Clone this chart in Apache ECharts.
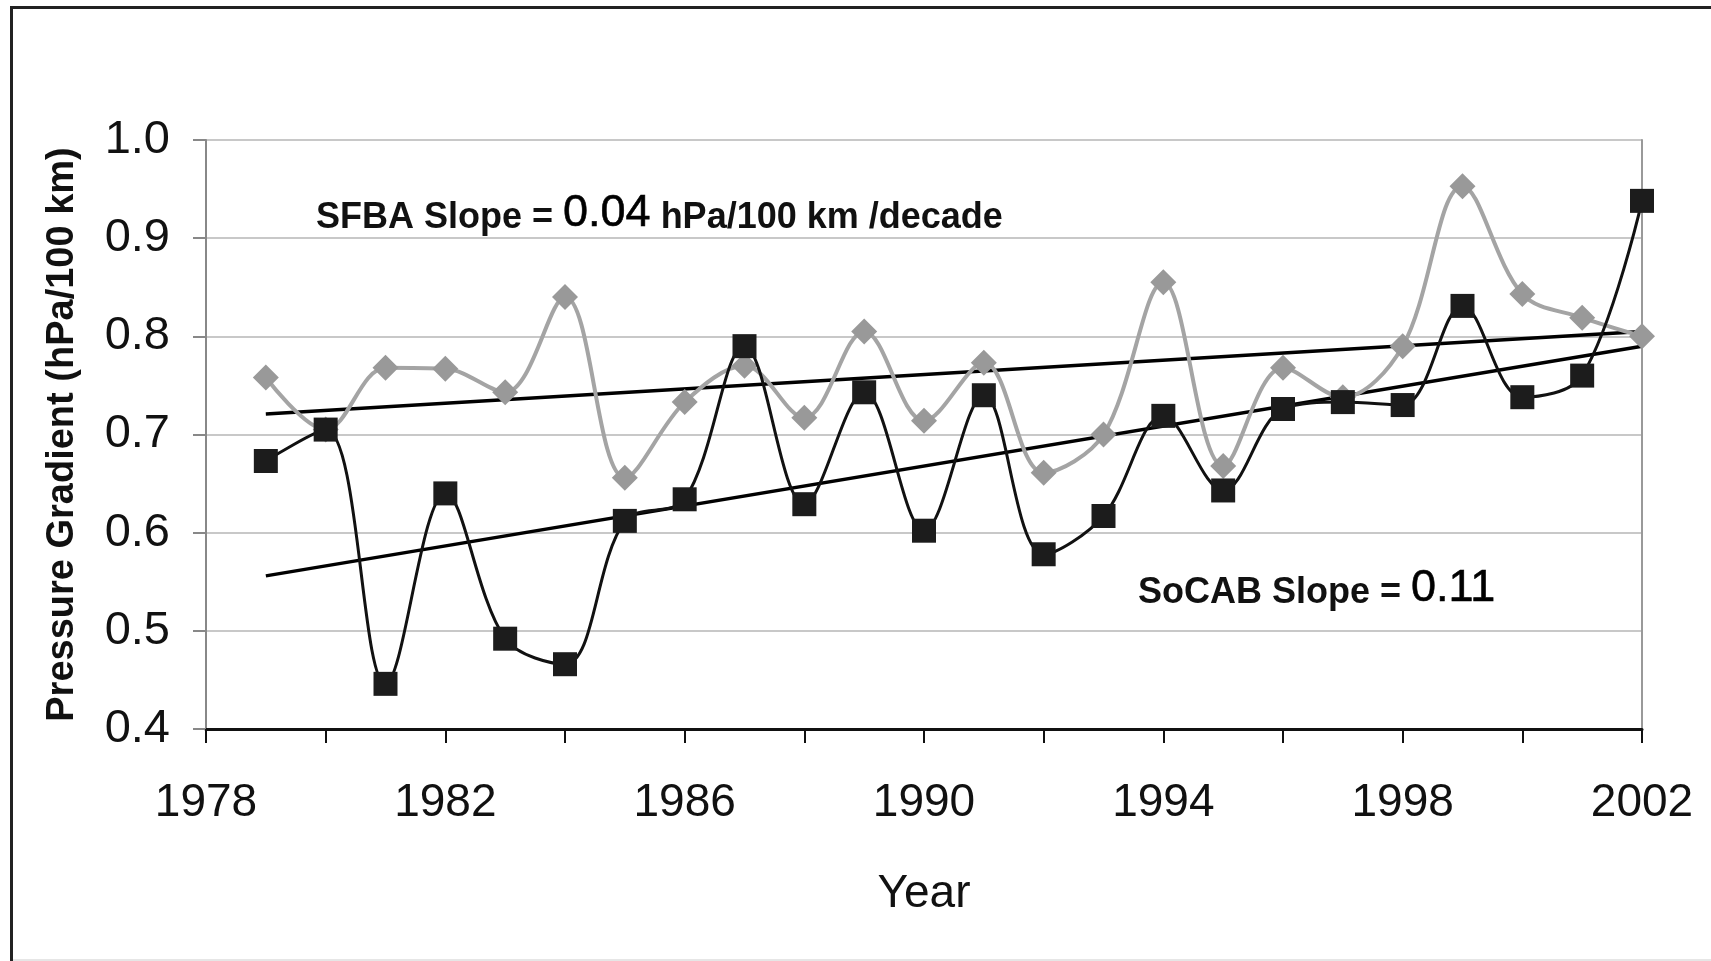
<!DOCTYPE html>
<html>
<head>
<meta charset="utf-8">
<script src="https://cdn.jsdelivr.net/npm/echarts@6/dist/echarts.min.js"></script>
<style>
html,body{margin:0;padding:0;background:#fff;}
#chart{width:1711px;height:961px;}
</style>
</head>
<body>
<div id="chart"></div>
<script>
// ---- data ----
const years = [1979,1980,1981,1982,1983,1984,1985,1986,1987,1988,1989,1990,1991,1992,1993,1994,1995,1996,1997,1998,1999,2000,2001,2002];
const sfba  = [0.758,0.705,0.768,0.767,0.743,0.840,0.656,0.733,0.770,0.717,0.805,0.714,0.773,0.661,0.700,0.855,0.668,0.768,0.738,0.790,0.953,0.843,0.819,0.800];
const socab = [0.673,0.705,0.446,0.640,0.492,0.466,0.612,0.634,0.790,0.629,0.743,0.602,0.740,0.578,0.617,0.719,0.643,0.726,0.733,0.730,0.831,0.738,0.760,0.938];
const sfbaTrendYears = [1979, 2002];
const sfbaTrend = [0.721, 0.805];
const socabTrendYears = [1979, 2002];
const socabTrend = [0.556, 0.790];
const yTicks = [0.4,0.5,0.6,0.7,0.8,0.9,1.0];
const xLabelYears = [1978,1982,1986,1990,1994,1998,2002];

const FONT = "'Liberation Sans', Arial, sans-serif";
const pair = (xs, ys) => xs.map((x, i) => [x, ys[i]]);

const chart = echarts.init(document.getElementById('chart'), null, {renderer: 'canvas'});
chart.setOption({
  backgroundColor: '#ffffff',
  animation: false,
  grid: {left: 206, right: 69, top: 140, bottom: 232, outerBoundsMode: 'none'},
  xAxis: {
    type: 'value', min: 1978, max: 2002, interval: 2,
    name: 'Year', nameLocation: 'middle', nameGap: 142,
    nameTextStyle: {fontFamily: FONT, fontSize: 46, color: '#111'},
    axisLine: {show: true, onZero: false, lineStyle: {color: '#111', width: 3}},
    axisTick: {show: true, inside: false, length: 14, lineStyle: {color: '#111', width: 2}},
    axisLabel: {
      margin: 51, fontFamily: FONT, fontSize: 46, color: '#111',
      formatter: v => xLabelYears.indexOf(v) >= 0 ? String(v) : ''
    },
    splitLine: {show: false}
  },
  yAxis: [{
    type: 'value', min: yTicks[0], max: yTicks[yTicks.length-1], interval: 0.1,
    name: 'Pressure Gradient (hPa/100 km)', nameLocation: 'middle', nameGap: 124,
    nameTextStyle: {fontFamily: FONT, fontSize: 38, fontWeight: 'bold', color: '#111'},
    axisLine: {show: true, lineStyle: {color: '#888', width: 2}},
    axisTick: {show: true, inside: false, length: 13, lineStyle: {color: '#888', width: 2}},
    axisLabel: {margin: 36, fontFamily: FONT, fontSize: 47, color: '#111', formatter: v => v.toFixed(1)},
    splitLine: {show: true, lineStyle: {color: '#c8c8c8', width: 2}}
  }, {
    type: 'value', min: 0.4, max: 1.0, interval: 0.1, position: 'right',
    axisLine: {show: true, lineStyle: {color: '#999', width: 2}},
    axisTick: {show: false}, axisLabel: {show: false}, splitLine: {show: false}
  }],
  series: [
    {name: 'SFBA trend', type: 'line', data: pair(sfbaTrendYears, sfbaTrend), symbol: 'none',
     lineStyle: {color: '#000', width: 3.5}, z: 3},
    {name: 'SoCAB trend', type: 'line', data: pair(socabTrendYears, socabTrend), symbol: 'none',
     lineStyle: {color: '#000', width: 3.5}, z: 3},
    {name: 'SFBA', type: 'line', data: pair(years, sfba), smooth: 0.35,
     symbol: 'diamond', symbolSize: 26,
     itemStyle: {color: '#999999'}, lineStyle: {color: '#a4a4a4', width: 4}, z: 4},
    {name: 'SoCAB', type: 'line', data: pair(years, socab), smooth: 0.35,
     symbol: 'rect', symbolSize: 24,
     itemStyle: {color: '#1c1c1c'}, lineStyle: {color: '#111', width: 3}, z: 5}
  ],
  graphic: [
    {type: 'line', shape: {x1: 11.5, y1: 6, x2: 11.5, y2: 961}, style: {stroke: '#222', lineWidth: 3}},
    {type: 'line', shape: {x1: 10, y1: 7.5, x2: 1711, y2: 7.5}, style: {stroke: '#222', lineWidth: 3}},
    {type: 'line', shape: {x1: 13, y1: 960, x2: 1711, y2: 960}, style: {stroke: '#e6e6e6', lineWidth: 2}},
    {type: 'text', left: 316, top: 191, z: 10,
     style: {
       text: '{a|SFBA Slope = }{b|0.04}{a| hPa/100 km /decade}',
       rich: {
         a: {fontFamily: FONT, fontSize: 36, fontWeight: 'bold', fill: '#111', verticalAlign: 'bottom'},
         b: {fontFamily: FONT, fontSize: 45, fill: '#000', verticalAlign: 'bottom', textStrokeWidth: 0.6, stroke: '#000', lineWidth: 0.6}
       }
     }},
    {type: 'text', left: 1138, top: 566, z: 10,
     style: {
       text: '{a|SoCAB Slope = }{b|0.11}',
       rich: {
         a: {fontFamily: FONT, fontSize: 36, fontWeight: 'bold', fill: '#111', verticalAlign: 'bottom'},
         b: {fontFamily: FONT, fontSize: 45, fill: '#000', verticalAlign: 'bottom', stroke: '#000', lineWidth: 0.6}
       }
     }}
  ]
});
</script>
</body>
</html>
